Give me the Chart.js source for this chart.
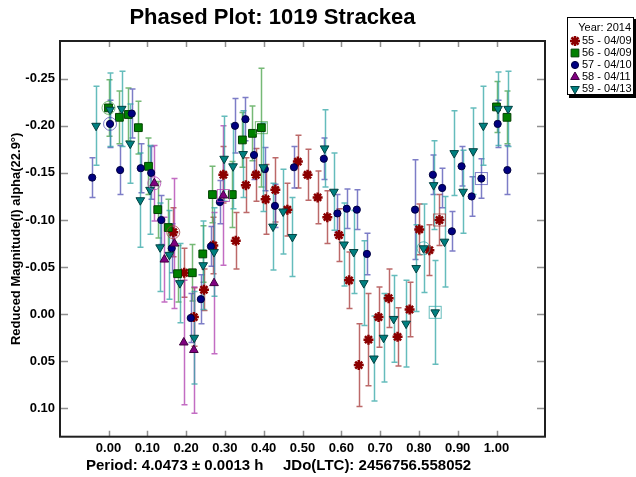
<!DOCTYPE html>
<html>
<head>
<meta charset="utf-8">
<title>Phased Plot: 1019 Strackea</title>
<script src="https://cdn.jsdelivr.net/npm/chart.js@4.4.1/dist/chart.umd.min.js"></script>
<style>
  html, body { margin: 0; padding: 0; background: #fff; }
  canvas { display: block; }
</style>
</head>
<body>
<canvas id="plot" width="636" height="477"></canvas>
<script>
// session 55 - 04/09
const phase55 = [0.167, 0.195, 0.220, 0.246, 0.270, 0.296, 0.328, 0.354, 0.380, 0.405, 0.430, 0.461, 0.488, 0.513,
                 0.539, 0.564, 0.594, 0.620, 0.645, 0.670, 0.696, 0.722, 0.745, 0.776, 0.801, 0.827, 0.853];
const mag55 = [-0.087, -0.044, 0.003, -0.026, -0.073, -0.148, -0.078, -0.137, -0.148, -0.122, -0.132, -0.111, -0.162, -0.148,
               -0.124, -0.103, -0.084, -0.036, 0.054, 0.027, 0.003, -0.017, 0.024, -0.005, -0.090, -0.068, -0.100];
const err55 = [0.026, 0.026, 0.031, 0.022, 0.030, 0.030, 0.030, 0.029, 0.028, 0.037, 0.034, 0.028, 0.028, 0.027,
               0.028, 0.028, 0.028, 0.030, 0.044, 0.049, 0.032, 0.031, 0.031, 0.029, 0.027, 0.027, 0.027];

// session 56 - 04/09
const phase56 = [0.000, 0.028, 0.051, 0.077, 0.103, 0.127, 0.154, 0.178, 0.216, 0.243, 0.268, 0.319, 0.345, 0.371, 0.394, 1.000, 1.027];
const mag56 = [-0.219, -0.209, -0.212, -0.198, -0.157, -0.111, -0.092, -0.043, -0.044, -0.064, -0.127, -0.127, -0.185, -0.192, -0.198, -0.220, -0.209];
const err56 = [0.030, 0.028, 0.028, 0.028, 0.030, 0.030, 0.030, 0.030, 0.030, 0.030, 0.030, 0.035, 0.029, 0.029, 0.063, 0.027, 0.028];

// session 57 - 04/10
const phase57 = [-0.042, 0.004, 0.030, 0.060, 0.083, 0.110, 0.136, 0.163, 0.212, 0.238, 0.264, 0.287, 0.326, 0.353, 0.375, 0.403,
                 0.429, 0.478, 0.555, 0.590, 0.614, 0.640, 0.666, 0.790, 0.836, 0.860, 0.885, 0.910, 0.936, 0.961, 1.003, 1.028];
const mag57 = [-0.145, -0.202, -0.153, -0.213, -0.155, -0.150, -0.100, -0.070, 0.004, -0.016, -0.072, -0.119, -0.200, -0.207, -0.169, -0.154,
               -0.115, -0.156, -0.165, -0.107, -0.112, -0.111, -0.064, -0.111, -0.148, -0.134, -0.088, -0.157, -0.125, -0.144, -0.202, -0.153];
const err57 = [0.021, 0.025, 0.026, 0.026, 0.026, 0.028, 0.026, 0.026, 0.026, 0.026, 0.021, 0.023, 0.029, 0.023, 0.026, 0.023,
               0.023, 0.022, 0.022, 0.020, 0.021, 0.021, 0.022, 0.053, 0.021, 0.021, 0.021, 0.021, 0.021, 0.021, 0.025, 0.026];

// session 58 - 04/11
const phase58 = [0.118, 0.144, 0.170, 0.194, 0.220, 0.272, 0.296];
const mag58 = [-0.139, -0.058, -0.075, 0.030, 0.038, -0.033, -0.126];
const err58 = [0.040, 0.045, 0.069, 0.066, 0.067, 0.075, 0.074];

// session 59 - 04/13
const phase59 = [-0.032, 0.004, 0.034, 0.056, 0.082, 0.107, 0.133, 0.157, 0.184, 0.221, 0.244, 0.272, 0.298, 0.321, 0.347, 0.399,
                 0.424, 0.450, 0.474, 0.557, 0.581, 0.607, 0.632, 0.658, 0.684, 0.709, 0.735, 0.767, 0.793, 0.812, 0.838, 0.842,
                 0.866, 0.891, 0.914, 0.940, 0.966, 1.004, 1.030];
const mag59 = [-0.200, -0.217, -0.218, -0.181, -0.121, -0.132, -0.071, -0.063, -0.033, 0.025, -0.052, -0.066, -0.165, -0.157, -0.170, -0.156,
               -0.093, -0.109, -0.082, -0.176, -0.130, -0.074, -0.066, -0.033, 0.047, 0.025, 0.005, 0.010, -0.049, -0.070, -0.137, -0.002,
               -0.077, -0.171, -0.130, -0.173, -0.200, -0.218, -0.218];
const err59 = [0.042, 0.039, 0.040, 0.042, 0.050, 0.047, 0.047, 0.047, 0.042, 0.049, 0.047, 0.047, 0.045, 0.045, 0.046, 0.047,
               0.046, 0.045, 0.042, 0.041, 0.041, 0.044, 0.044, 0.045, 0.045, 0.047, 0.046, 0.046, 0.046, 0.047, 0.047, 0.055,
               0.048, 0.045, 0.044, 0.046, 0.042, 0.039, 0.040];

const sessionLabels = ['55 - 04/09', '56 - 04/09', '57 - 04/10', '58 - 04/11', '59 - 04/13'];
const xTicks = [0.0, 0.1, 0.2, 0.3, 0.4, 0.5, 0.6, 0.7, 0.8, 0.9, 1.0];
const yTicks = [-0.25, -0.20, -0.15, -0.10, -0.05, 0.00, 0.05, 0.10];

const FONT = "'Liberation Sans', Arial, sans-serif";

const points = (ph, mg, er) => ph.map((p, i) => ({ x: p, y: mg[i], e: er[i] }));

// error bars behind the markers, ring / box marks on first and last point of a session
const errorBars = {
    id: 'errorBars',
    beforeDatasetsDraw(chart) {
        const { ctx, chartArea: a, scales: { x, y } } = chart;
        ctx.save();
        ctx.beginPath();
        ctx.rect(a.left, a.top, a.right - a.left, a.bottom - a.top);
        ctx.clip();
        ctx.lineWidth = 1.5;
        chart.data.datasets.forEach(ds => {
            ctx.strokeStyle = ds.barColor;
            ds.data.forEach(p => {
                const px = Math.round(x.getPixelForValue(p.x)) + 0.5;
                const top = y.getPixelForValue(p.y - p.e);
                const bot = y.getPixelForValue(p.y + p.e);
                ctx.beginPath();
                ctx.moveTo(px, top); ctx.lineTo(px, bot);
                ctx.moveTo(px - 3, top); ctx.lineTo(px + 3, top);
                ctx.moveTo(px - 3, bot); ctx.lineTo(px + 3, bot);
                ctx.stroke();
            });
        });
        ctx.restore();
    },
    afterDatasetsDraw(chart) {
        const { ctx, scales: { x, y } } = chart;
        ctx.save();
        ctx.lineWidth = 1;
        chart.data.datasets.forEach(ds => {
            ctx.strokeStyle = ds.barColor;
            const r = ds.data[ds.ringAt];
            const b = ds.data[ds.boxAt];
            ctx.beginPath();
            ctx.arc(x.getPixelForValue(r.x), y.getPixelForValue(r.y), 6.5, 0, Math.PI * 2);
            ctx.stroke();
            ctx.strokeRect(x.getPixelForValue(b.x) - 6, y.getPixelForValue(b.y) - 6, 12, 12);
        });
        ctx.restore();
    }
};

// frame, inward ticks, legend box and the footer line
const decorations = {
    id: 'decorations',
    afterDraw(chart) {
        const { ctx, chartArea: a, scales: { x, y } } = chart;
        ctx.save();
        ctx.strokeStyle = '#909090';
        ctx.lineWidth = 1.5;
        xTicks.forEach(v => {
            const px = Math.round(x.getPixelForValue(v)) + 0.5;
            ctx.beginPath();
            ctx.moveTo(px, a.top); ctx.lineTo(px, a.top + 6);
            ctx.moveTo(px, a.bottom); ctx.lineTo(px, a.bottom - 6);
            ctx.stroke();
        });
        yTicks.forEach(v => {
            const py = Math.round(y.getPixelForValue(v)) + 0.5;
            ctx.beginPath();
            ctx.moveTo(a.left, py); ctx.lineTo(a.left + 8, py);
            ctx.moveTo(a.right, py); ctx.lineTo(a.right - 8, py);
            ctx.stroke();
        });
        ctx.strokeStyle = '#202020';
        ctx.lineWidth = 2;
        ctx.strokeRect(a.left, a.top, a.right - a.left, a.bottom - a.top);

        // legend
        const lx = 567, ly = 17, lw = 67, lh = 78;
        ctx.fillStyle = '#000';
        ctx.fillRect(lx + 2, ly + 2, lw, lh + 1);
        ctx.fillStyle = '#fff';
        ctx.fillRect(lx, ly, lw, lh);
        ctx.strokeStyle = '#000';
        ctx.lineWidth = 1;
        ctx.strokeRect(lx + 0.5, ly + 0.5, lw - 1, lh - 1);
        ctx.fillStyle = '#000';
        ctx.font = '11px ' + FONT;
        ctx.textBaseline = 'middle';
        ctx.textAlign = 'right';
        ctx.fillText('Year: 2014', lx + lw - 3, ly + 11);
        ctx.textAlign = 'left';
        chart.data.datasets.forEach((ds, i) => {
            const ry = ly + 24 + i * 12;
            ctx.save();
            ctx.fillStyle = ds.backgroundColor;
            ctx.strokeStyle = ds.borderColor;
            ctx.lineWidth = ds.borderWidth;
            Chart.helpers.drawPoint(ctx, {
                pointStyle: ds.pointStyle, radius: ds.pointRadius,
                rotation: ds.pointRotation || 0, borderWidth: ds.borderWidth
            }, lx + 8, ry);
            ctx.restore();
            ctx.fillStyle = '#000';
            ctx.fillText(sessionLabels[i], lx + 15, ry);
        });

        // footer
        ctx.font = 'bold 15px ' + FONT;
        ctx.fillText('Period: 4.0473 \u00b1 0.0013 h', 86, 466);
        ctx.fillText('JDo(LTC): 2456756.558052', 283, 466);
        ctx.restore();
    }
};

new Chart(document.getElementById('plot'), {
    type: 'scatter',
    data: {
        datasets: [
            {
                label: sessionLabels[0], data: points(phase55, mag55, err55), order: 5,
                pointStyle: 'star', pointRadius: 5, borderWidth: 2.5,
                backgroundColor: '#8b0000', borderColor: '#8b0000',
                barColor: 'rgba(165, 55, 55, 0.75)', ringAt: 0, boxAt: 26
            },
            {
                label: sessionLabels[1], data: points(phase56, mag56, err56), order: 4,
                pointStyle: 'rect', pointRadius: 5.5, borderWidth: 1,
                backgroundColor: '#008000', borderColor: '#004000',
                barColor: 'rgba(60, 155, 60, 0.7)', ringAt: 0, boxAt: 14
            },
            {
                label: sessionLabels[2], data: points(phase57, mag57, err57), order: 3,
                pointStyle: 'circle', pointRadius: 3.6, borderWidth: 1,
                backgroundColor: '#000080', borderColor: '#000040',
                barColor: 'rgba(70, 70, 175, 0.7)', ringAt: 1, boxAt: 29
            },
            {
                label: sessionLabels[3], data: points(phase58, mag58, err58), order: 2,
                pointStyle: 'triangle', pointRadius: 5, borderWidth: 1,
                backgroundColor: '#800080', borderColor: '#400040',
                barColor: 'rgba(175, 60, 175, 0.75)', ringAt: 0, boxAt: 6
            },
            {
                label: sessionLabels[4], data: points(phase59, mag59, err59), order: 1,
                pointStyle: 'triangle', pointRotation: 180, pointRadius: 5, borderWidth: 1,
                backgroundColor: '#008080', borderColor: '#004040',
                barColor: 'rgba(50, 165, 165, 0.75)', ringAt: 29, boxAt: 31
            }
        ]
    },
    options: {
        responsive: false,
        animation: false,
        devicePixelRatio: 1,
        layout: { padding: { left: 0, right: 91, top: 0, bottom: 0 } },
        scales: {
            x: {
                type: 'linear', min: -0.125, max: 1.125,
                afterBuildTicks: s => { s.ticks = xTicks.map(v => ({ value: v })); },
                afterFit: s => { s.height = 40.3; },
                grid: { display: false, drawTicks: false },
                border: { display: false },
                ticks: {
                    padding: 4, color: '#000', maxRotation: 0,
                    font: { family: FONT, size: 13, weight: 'bold' },
                    callback: v => v.toFixed(2)
                }
            },
            y: {
                type: 'linear', reverse: true, min: -0.29, max: 0.13,
                afterBuildTicks: s => { s.ticks = yTicks.map(v => ({ value: v })); },
                afterFit: s => { s.width = 60; },
                grid: { display: false, drawTicks: false },
                border: { display: false },
                ticks: {
                    padding: 5, color: '#000',
                    font: { family: FONT, size: 13, weight: 'bold' },
                    callback: v => v.toFixed(2)
                },
                title: {
                    display: true, text: 'Reduced Magnitude(I) alpha(22.9\u00b0)', color: '#000',
                    padding: { top: 9, bottom: 0 },
                    font: { family: FONT, size: 13, weight: 'bold' }
                }
            }
        },
        plugins: {
            legend: { display: false },
            tooltip: { enabled: false },
            title: {
                display: true, text: 'Phased Plot: 1019 Strackea', color: '#000',
                padding: { top: 5, bottom: 9.6 },
                font: { family: FONT, size: 22, weight: 'bold' }
            }
        }
    },
    plugins: [errorBars, decorations]
});
</script>
</body>
</html>
